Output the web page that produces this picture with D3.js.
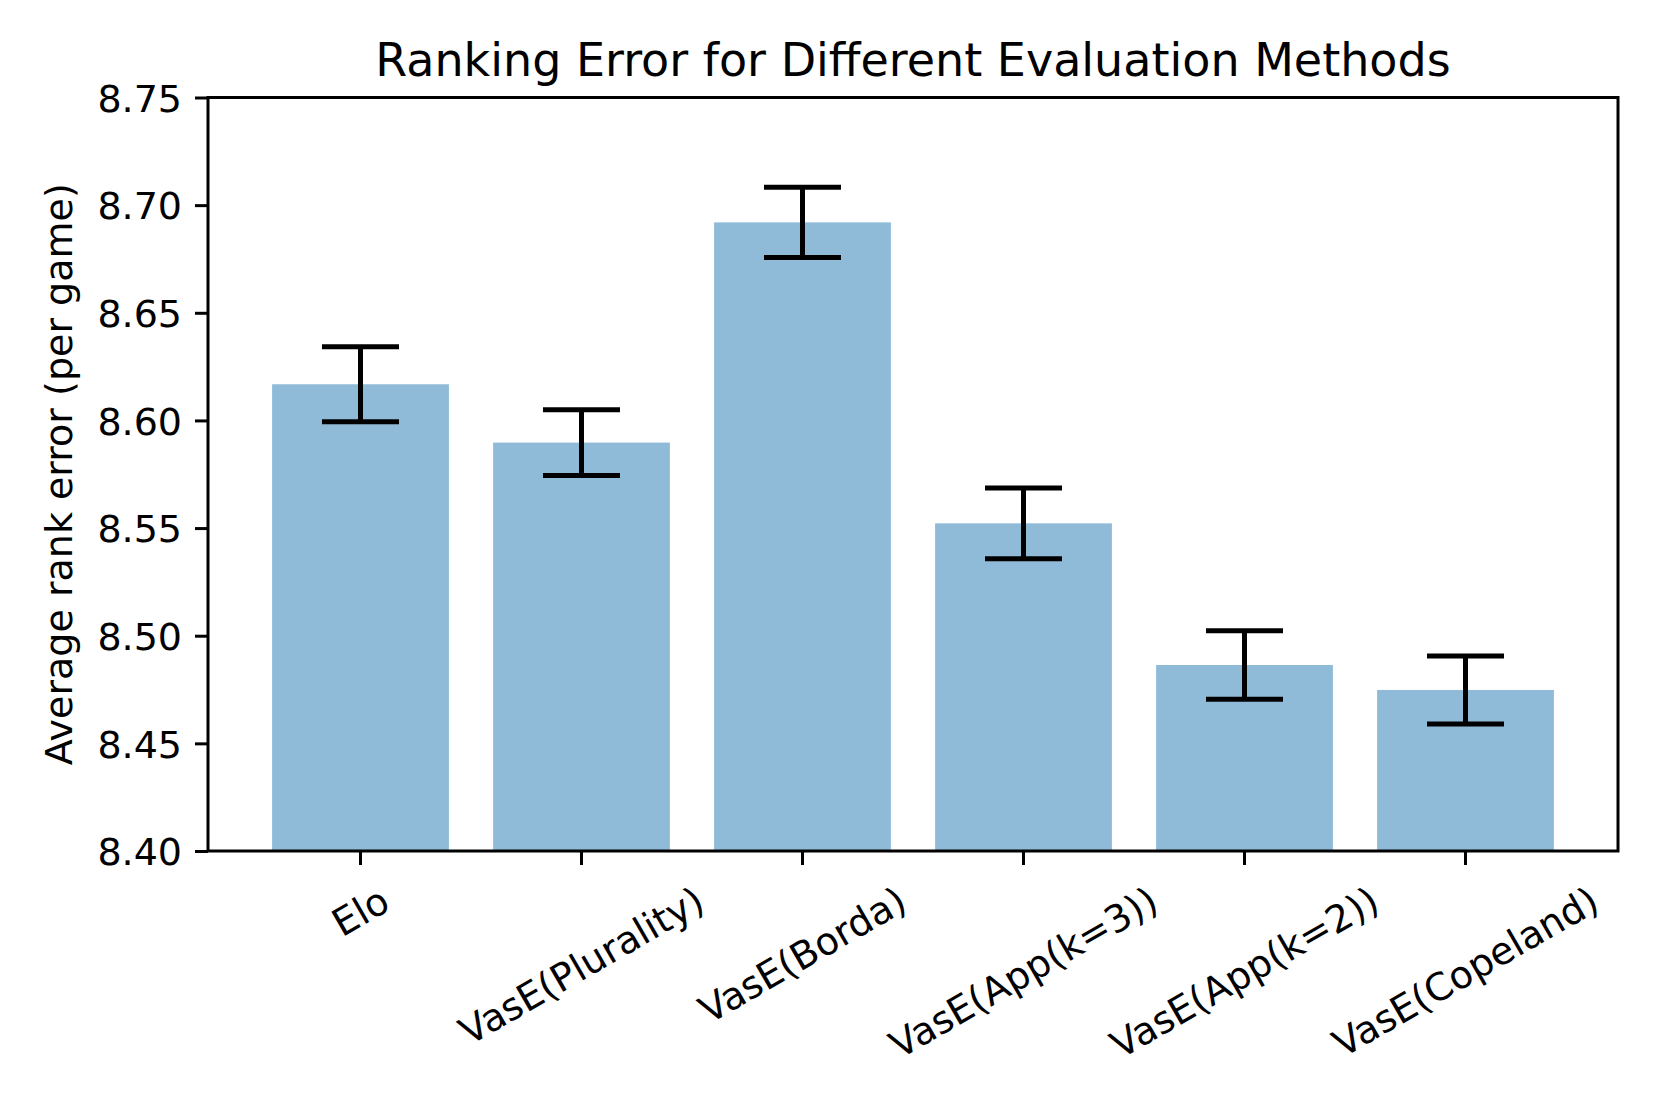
<!DOCTYPE html>
<meta charset="utf-8">
<style>
body { margin: 0; background: #fff; }
text { font-family: "DejaVu Sans", sans-serif; fill: #000; }
.bar { fill: #1f77b4; fill-opacity: 0.5; }
.err { stroke: #000; stroke-width: 5px; fill: none; }
</style>
<svg width="1661" height="1107"></svg>
<script src="https://cdn.jsdelivr.net/npm/d3@7"></script>
<script>
var methods = ["Elo", "VasE(Plurality)", "VasE(Borda)", "VasE(App(k=3))", "VasE(App(k=2))", "VasE(Copeland)"];
var means = [8.6168, 8.5897, 8.6920, 8.5522, 8.4864, 8.4748];
var errs = [0.0174, 0.0153, 0.0163, 0.0164, 0.0159, 0.0158];
var yTicks = [8.40, 8.45, 8.50, 8.55, 8.60, 8.65, 8.70, 8.75];

var pLeft = 208, pRight = 1618, pTop = 97.5, pBottom = 851;
var tickFont = 38, titleFont = 46;

var svg = d3.select("svg");

var x = d3.scaleBand()
    .domain(methods)
    .range([pLeft, pRight])
    .paddingInner(0.2)
    .paddingOuter(0.29);

var y = d3.scaleLinear()
    .domain([8.40, 8.75])
    .range([pBottom, pTop]);

var data = methods.map(function(m, i) { return {name: m, v: means[i], e: errs[i]}; });

// bars
svg.selectAll(".bar")
    .data(data)
  .enter().append("rect")
    .attr("class", "bar")
    .attr("x", function(d) { return x(d.name); })
    .attr("width", x.bandwidth())
    .attr("y", function(d) { return y(d.v); })
    .attr("height", function(d) { return pBottom - y(d.v); });

// error bars
var cap = 38.5;
var eb = svg.selectAll(".eb")
    .data(data)
  .enter().append("g")
    .attr("class", "eb");
eb.append("line").attr("class", "err")
    .attr("x1", function(d) { return x(d.name) + x.bandwidth() / 2; })
    .attr("x2", function(d) { return x(d.name) + x.bandwidth() / 2; })
    .attr("y1", function(d) { return y(d.v - d.e); })
    .attr("y2", function(d) { return y(d.v + d.e); });
[-1, 1].forEach(function(s) {
  eb.append("line").attr("class", "err")
      .attr("x1", function(d) { return x(d.name) + x.bandwidth() / 2 - cap; })
      .attr("x2", function(d) { return x(d.name) + x.bandwidth() / 2 + cap; })
      .attr("y1", function(d) { return y(d.v + s * d.e); })
      .attr("y2", function(d) { return y(d.v + s * d.e); });
});

// y axis
var yAxis = svg.append("g")
    .attr("transform", "translate(" + pLeft + ",0)")
    .call(d3.axisLeft(y).tickValues(yTicks).tickFormat(d3.format(".2f")).tickSize(13).tickPadding(13));
yAxis.select(".domain").remove();
yAxis.selectAll(".tick line").attr("stroke", "#000").attr("stroke-width", 3);
yAxis.selectAll(".tick text")
    .style("font-size", tickFont + "px")
    .attr("font-family", null)
    .attr("fill", "#000")
    .attr("dy", "0.36em");

// x axis
var xAxis = svg.append("g")
    .attr("transform", "translate(0," + pBottom + ")")
    .call(d3.axisBottom(x).tickSize(14).tickFormat(""));
xAxis.select(".domain").remove();
xAxis.selectAll(".tick line").attr("stroke", "#000").attr("stroke-width", 3);

// rotated x labels, centred on the tick like matplotlib ha=center
var labTop = pBottom + 14 + 13;
var ang = 30 * Math.PI / 180;
svg.selectAll(".xlab")
    .data(methods)
  .enter().append("text")
    .attr("class", "xlab")
    .style("font-size", tickFont + "px")
    .attr("text-anchor", "middle")
    .attr("dy", "0.35em")
    .text(function(d) { return d; })
    .each(function(d) {
      var w = this.getComputedTextLength(), h = tickFont * 1.164;
      var cy = labTop + (w * Math.sin(ang) + h * Math.cos(ang)) / 2;
      var cx = x(d) + x.bandwidth() / 2;
      d3.select(this).attr("transform", "translate(" + cx + "," + cy + ") rotate(-30)");
    });

// frame
svg.append("rect")
    .attr("x", pLeft).attr("y", pTop)
    .attr("width", pRight - pLeft).attr("height", pBottom - pTop)
    .attr("fill", "none").attr("stroke", "#000").attr("stroke-width", 3);

// y label
svg.append("text")
    .attr("transform", "translate(72," + (pTop + pBottom) / 2 + ") rotate(-90)")
    .attr("text-anchor", "middle")
    .style("font-size", tickFont + "px")
    .text("Average rank error (per game)");

// title
svg.append("text")
    .attr("x", (pLeft + pRight) / 2)
    .attr("y", 76)
    .attr("text-anchor", "middle")
    .style("font-size", titleFont + "px")
    .text("Ranking Error for Different Evaluation Methods");
</script>
